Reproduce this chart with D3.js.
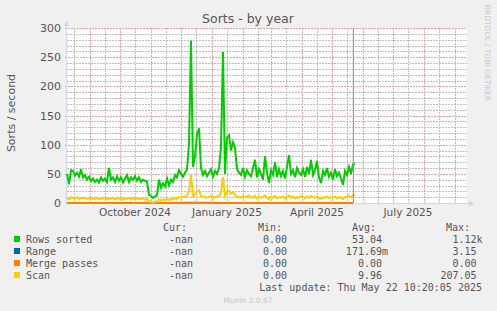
<!DOCTYPE html>
<html>
<head>
<meta charset="utf-8">
<script src="https://cdn.jsdelivr.net/npm/d3@7"></script>
<style>
  body { margin: 0; background: #f0f0f0; }
  svg text { font-family: "DejaVu Sans", sans-serif; }
  .mono { font-family: "DejaVu Sans Mono", monospace; font-size: 10px; fill: #555; }
</style>
</head>
<body>
<div id="chart"></div>
<script>
// one sample every 2 days, starting 2024-08-09
const startDay = new Date(2024, 7, 9);
const stepDays = 2;

const rowsSorted = [
  50, 32, 56, 55, 47, 52, 45, 58, 44, 48, 40, 45, 38, 42, 36, 40, 35, 44, 38, 42,
  36, 60, 40, 44, 36, 46, 38, 44, 35, 42, 48, 36, 44, 40, 46, 38, 44, 36, 40, 38,
  37, 14, 12, 9, 11, 14, 40, 26, 34, 28, 42, 30, 40, 36, 48, 44, 56, 50, 45, 52,
  58, 100, 278, 62, 80, 118, 128, 60, 48, 55, 46, 52, 58, 45, 55, 50, 60, 96, 259, 50,
  112, 116, 90, 104, 95, 58, 52, 48, 60, 45, 56, 50, 46, 60, 74, 44, 58, 50, 40, 80,
  52, 34, 56, 48, 70, 45, 58, 46, 55, 42, 62, 82, 50, 56, 44, 60, 52, 48, 58, 45,
  62, 50, 74, 48, 56, 72, 44, 34, 55, 48, 60, 45, 52, 40, 58, 46, 52, 42, 31, 55,
  48, 62, 50, 66, 68
];

const scan = [
  9, 6, 10, 9, 8, 10, 7, 9, 8, 9, 7, 8, 6, 8, 7, 9, 6, 8, 7, 9,
  6, 8, 7, 9, 6, 8, 7, 9, 6, 8, 7, 9, 6, 8, 7, 8, 6, 7, 8, 6,
  7, 3, 2, 1, 2, 3, 6, 4, 6, 5, 7, 5, 7, 6, 8, 7, 10, 9, 11, 10,
  13, 20, 48, 12, 15, 20, 22, 12, 10, 11, 9, 10, 12, 9, 10, 11, 12, 18, 44, 12,
  20, 21, 16, 19, 14, 11, 10, 9, 12, 10, 11, 13, 9, 10, 12, 8, 11, 9, 10, 13,
  9, 7, 11, 9, 12, 8, 10, 9, 11, 8, 10, 13, 9, 11, 8, 10, 9, 12, 10, 8,
  11, 9, 12, 10, 9, 11, 8, 7, 10, 9, 11, 8, 10, 9, 11, 8, 10, 9, 7, 10,
  11, 12, 10, 13, 14
];

// monthly samples, these stay near zero
const rangeDays = ['2024-08-09', '2024-09-15', '2024-10-15', '2024-11-15', '2024-12-15',
  '2025-01-15', '2025-02-15', '2025-03-15', '2025-04-15', '2025-05-22'];
const rangeVals = [0.2, 0.1, 0.2, 0.1, 0.3, 0.2, 0.2, 0.1, 0.2, 0.2];
const mergeVals = [0, 0, 0, 0, 0, 0, 0, 0, 0, 0];

const legendNames = ['Rows sorted', 'Range', 'Merge passes', 'Scan'];
const legendColors = ['#00cc00', '#0066b3', '#ff8000', '#ffcc00'];
const curVals = ['-nan', '-nan', '-nan', '-nan'];
const minVals = ['0.00', '0.00', '0.00', '0.00'];
const avgVals = ['53.04', '171.69m', '0.00', '9.96'];
const maxVals = ['1.12k', '3.15', '0.00', '207.05'];
const lastUpdate = new Date(2025, 4, 22, 10, 20, 5);

const yTicks = [0, 50, 100, 150, 200, 250, 300];
const xLabelMonths = [new Date(2024, 9, 1), new Date(2025, 0, 1), new Date(2025, 3, 1), new Date(2025, 6, 1)];

const W = 497, H = 311;
const pLeft = 67, pRight = 467, pTop = 28, pBottom = 203;

const svg = d3.select('#chart').append('svg')
  .attr('width', W).attr('height', H);

svg.append('rect').attr('width', W).attr('height', H).attr('fill', '#f0f0f0');

const x = d3.scaleTime()
  .domain([new Date(2024, 7, 9), new Date(2025, 8, 13)])
  .range([pLeft, pRight]);
const y = d3.scaleLinear().domain([0, 300]).range([pBottom, pTop]);

const dayOf = i => d3.timeDay.offset(startDay, i * stepDays);

svg.append('rect').attr('x', pLeft).attr('y', pTop)
  .attr('width', pRight - pLeft).attr('height', pBottom - pTop).attr('fill', '#ffffff');

// minor grid
const minorCol = '#c0c0c0', majorCol = '#eba6a6';
const g = svg.append('g');
d3.range(10, 300, 10).filter(v => v % 50 !== 0).forEach(v => {
  g.append('line').attr('x1', pLeft).attr('x2', pRight)
    .attr('y1', Math.round(y(v)) + 0.5).attr('y2', Math.round(y(v)) + 0.5)
    .attr('stroke', minorCol).attr('stroke-dasharray', '2,1');
});
const months = d3.timeMonth.range(new Date(2024, 7, 1), new Date(2025, 8, 14));
months.forEach(m => {
  const mid = new Date(m.getFullYear(), m.getMonth(), 16);
  const px = Math.round(x(mid)) + 0.5;
  if (px > pLeft && px < pRight) {
    g.append('line').attr('x1', px).attr('x2', px).attr('y1', pTop).attr('y2', pBottom)
      .attr('stroke', minorCol).attr('stroke-dasharray', '2,1');
  }
});
// major grid
yTicks.forEach(v => {
  const py = Math.round(y(v)) + 0.5;
  g.append('line').attr('x1', pLeft - 2).attr('x2', pRight)
    .attr('y1', py).attr('y2', py)
    .attr('stroke', majorCol).attr('stroke-dasharray', '2,1');
});
months.forEach(m => {
  const px = Math.round(x(m)) + 0.5;
  if (px > pLeft && px < pRight) {
    g.append('line').attr('x1', px).attr('x2', px).attr('y1', pTop).attr('y2', pBottom + 2)
      .attr('stroke', majorCol).attr('stroke-dasharray', '2,1');
  }
});

// y labels
svg.append('g').selectAll('text').data(yTicks).enter().append('text')
  .attr('x', 61).attr('y', d => y(d) + 4)
  .attr('text-anchor', 'end').attr('font-size', 11).attr('fill', '#555')
  .text(d => d);

// x labels, centred in the middle of the month
svg.append('g').selectAll('text').data(xLabelMonths).enter().append('text')
  .attr('x', d => x(d3.timeDay.offset(d, 15)))
  .attr('y', 216).attr('text-anchor', 'middle').attr('font-size', 10.5).attr('fill', '#555')
  .text(d => d3.timeFormat('%B %Y')(d));

// series
const line = d3.line().x(d => x(d[0])).y(d => y(d[1]));
const rangeData = rangeDays.map((d, i) => [d3.timeParse('%Y-%m-%d')(d), rangeVals[i]]);
const mergeData = rangeDays.map((d, i) => [d3.timeParse('%Y-%m-%d')(d), mergeVals[i]]);
const rowsData = rowsSorted.map((v, i) => [dayOf(i), v]);
const scanData = scan.map((v, i) => [dayOf(i), v]);

// axes
const axisCol = '#cfd6f8';
svg.append('line').attr('x1', pLeft - 0.5).attr('x2', pLeft - 0.5).attr('y1', pBottom + 2).attr('y2', pTop - 3)
  .attr('stroke', axisCol);
svg.append('path').attr('d', `M${pLeft - 3.5},${pTop - 2} L${pLeft + 2.5},${pTop - 2} L${pLeft - 0.5},${pTop - 7} Z`)
  .attr('fill', axisCol);
svg.append('line').attr('x1', pLeft - 2).attr('x2', pRight + 4).attr('y1', pBottom + 0.5).attr('y2', pBottom + 0.5)
  .attr('stroke', axisCol).attr('shape-rendering', 'crispEdges');
svg.append('path').attr('d', `M${pRight + 2},${pBottom - 2.5} L${pRight + 2},${pBottom + 3.5} L${pRight + 7},${pBottom + 0.5} Z`)
  .attr('fill', axisCol);

[[rowsData, legendColors[0]], [rangeData, legendColors[1]],
 [mergeData, legendColors[2]], [scanData, legendColors[3]]].forEach(([data, col]) => {
  svg.append('path').datum(data).attr('d', line)
    .attr('fill', 'none').attr('stroke', col).attr('stroke-width', 2)
    .attr('stroke-linejoin', 'miter');
});

// now line
svg.append('line').attr('x1', x(lastUpdate)).attr('x2', x(lastUpdate))
  .attr('y1', pTop).attr('y2', pBottom).attr('stroke', '#999').attr('stroke-width', 1.2);

// titles
svg.append('text').attr('x', 248).attr('y', 23).attr('text-anchor', 'middle')
  .attr('font-size', 12.5).attr('fill', '#555').text('Sorts - by year');
svg.append('text').attr('transform', 'translate(15,113) rotate(-90)')
  .attr('text-anchor', 'middle').attr('font-size', 11).attr('fill', '#555').text('Sorts / second');
svg.append('text').attr('transform', 'translate(485,53) rotate(90)')
  .attr('text-anchor', 'middle').attr('font-size', 7.5).attr('fill', '#c8c8c8').text('RRDTOOL / TOBI OETIKER');

// legend
const cw = 6.02;
const hdrY = 231, rowY0 = 243, rowStep = 12;
[['Cur:', 187], ['Min:', 282], ['Avg:', 376], ['Max:', 470]].forEach(([t, xe]) => {
  svg.append('text').attr('class', 'mono').attr('x', xe).attr('y', hdrY)
    .attr('text-anchor', 'end').text(t);
});
const suffixShift = s => (/[a-z]$/i.test(s) && s !== '-nan') ? cw : 0;
legendNames.forEach((name, i) => {
  const ry = rowY0 + i * rowStep;
  svg.append('rect').attr('x', 14).attr('y', ry - 7).attr('width', 6).attr('height', 6)
    .attr('fill', legendColors[i]);
  svg.append('text').attr('class', 'mono').attr('x', 26).attr('y', ry).text(name);
  svg.append('text').attr('class', 'mono').attr('x', 193).attr('y', ry)
    .attr('text-anchor', 'end').text(curVals[i]);
  svg.append('text').attr('class', 'mono').attr('x', 287).attr('y', ry)
    .attr('text-anchor', 'end').text(minVals[i]);
  svg.append('text').attr('class', 'mono').attr('x', 382 + suffixShift(avgVals[i])).attr('y', ry)
    .attr('text-anchor', 'end').text(avgVals[i]);
  svg.append('text').attr('class', 'mono').attr('x', 476.5 + suffixShift(maxVals[i])).attr('y', ry)
    .attr('text-anchor', 'end').text(maxVals[i]);
});
svg.append('text').attr('class', 'mono').attr('x', 482).attr('y', rowY0 + 4 * rowStep)
  .attr('text-anchor', 'end')
  .text('Last update: ' + d3.timeFormat('%a %b %d %H:%M:%S %Y')(lastUpdate));

svg.append('text').attr('x', 248).attr('y', 303).attr('text-anchor', 'middle')
  .attr('font-size', 7.5).attr('fill', '#c8c8c8').text('Munin 2.0.67');
</script>
</body>
</html>
